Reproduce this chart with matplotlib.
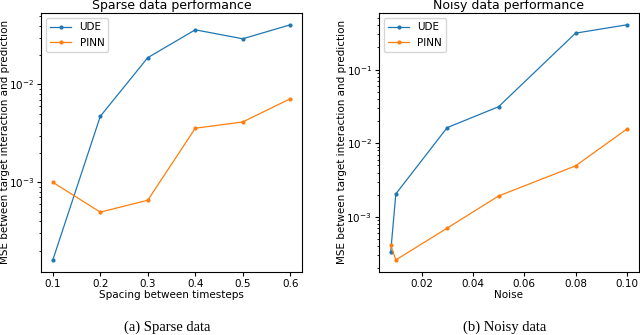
import matplotlib
matplotlib.use("Agg")
import matplotlib.pyplot as plt

spacing = [0.1, 0.2, 0.3, 0.4, 0.5, 0.6]
sparse_ude = [1.61e-4, 4.73e-3, 0.0188, 0.0362, 0.0293, 0.0407]
sparse_pinn = [1.0e-3, 4.96e-4, 6.56e-4, 3.57e-3, 4.14e-3, 7.14e-3]

noise = [0.008, 0.01, 0.03, 0.05, 0.08, 0.1]
noisy_ude = [3.3e-4, 2.05e-3, 0.0163, 0.0313, 0.313, 0.406]
noisy_pinn = [4.14e-4, 2.6e-4, 7.03e-4, 1.92e-3, 4.93e-3, 0.0156]

ylabel = "MSE between target interaction and prediction"

fig = plt.figure(figsize=(6.4, 3.35), dpi=100)
ax1 = fig.add_axes([0.064, 0.189, 0.408, 0.772])
ax2 = fig.add_axes([0.592, 0.189, 0.406, 0.772])

fs = 7.5
for ax, x, u, p, title, xl, lx in [
    (ax1, spacing, sparse_ude, sparse_pinn, "Sparse data performance", "Spacing between timesteps", -0.117),
    (ax2, noise, noisy_ude, noisy_pinn, "Noisy data performance", "Noise", -0.122),
]:
    ax.plot(x, u, marker='.', markersize=4, linewidth=0.9, color='#1f77b4', label='UDE')
    ax.plot(x, p, marker='.', markersize=4, linewidth=0.9, color='#ff7f0e', label='PINN')
    ax.set_yscale('log')
    ax.set_title(title, fontsize=9, pad=3)
    ax.set_xlabel(xl, fontsize=fs, labelpad=1)
    ax.set_ylabel(ylabel, fontsize=fs)
    ax.yaxis.set_label_coords(lx, 0.5)
    ax.tick_params(labelsize=fs, pad=2)
    ax.tick_params(which='both', length=3)
    ax.tick_params(which='minor', length=1.8)
    ax.legend(loc='upper left', fontsize=fs)

ax2.set_xticks([0.02, 0.04, 0.06, 0.08, 0.10])
ax2.set_xticklabels(["0.02", "0.04", "0.06", "0.08", "0.10"])

fig.text(0.261, 0.012, "(a) Sparse data", family="Liberation Serif", fontsize=10.5, ha='center')
fig.text(0.789, 0.012, "(b) Noisy data", family="Liberation Serif", fontsize=10.5, ha='center')

fig.savefig("out.png", dpi=100)
